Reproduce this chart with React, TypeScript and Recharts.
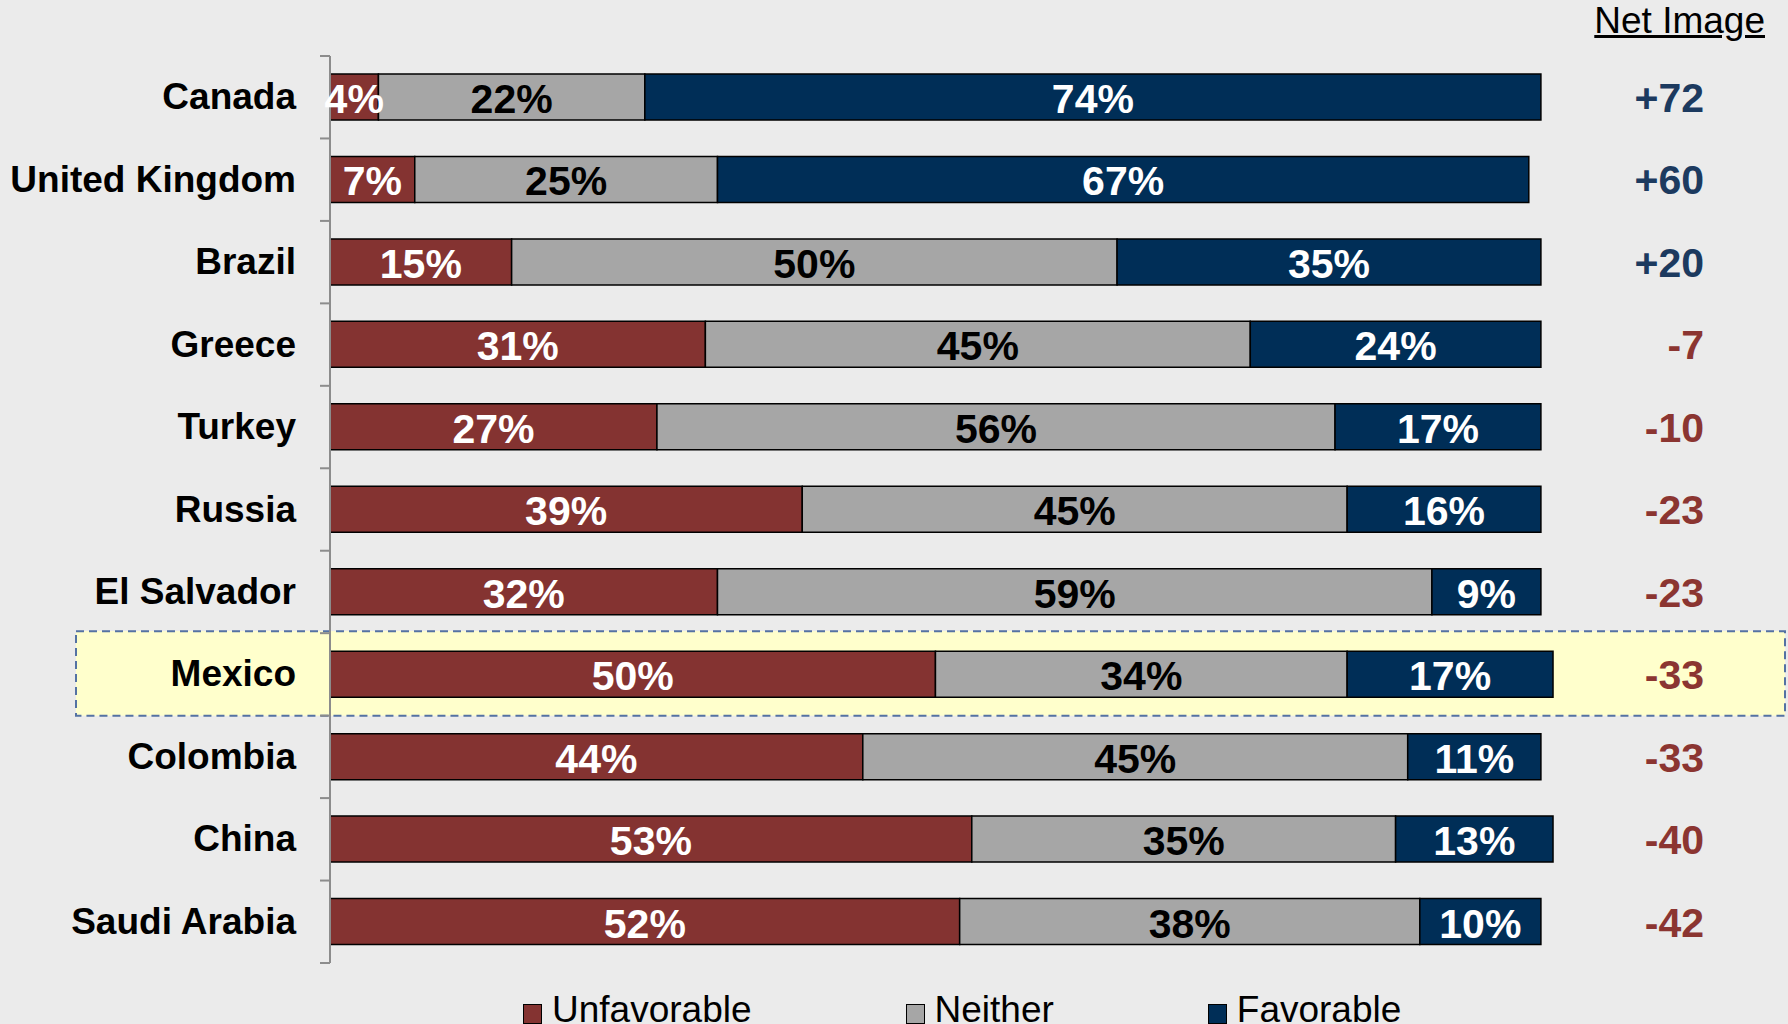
import React from 'react';
import { BarChart, Bar, XAxis, YAxis, LabelList, ReferenceArea } from 'recharts';

const countries = ['Canada', 'United Kingdom', 'Brazil', 'Greece', 'Turkey', 'Russia', 'El Salvador', 'Mexico', 'Colombia', 'China', 'Saudi Arabia'];
const unfavorable = [4, 7, 15, 31, 27, 39, 32, 50, 44, 53, 52];
const neither = [22, 25, 50, 45, 56, 45, 59, 34, 45, 35, 38];
const favorable = [74, 67, 35, 24, 17, 16, 9, 17, 11, 13, 10];
const netImage = [72, 60, 20, -7, -10, -23, -23, -33, -33, -40, -42];
const highlighted = 'Mexico';

const COLORS = { unfav: '#843331', neither: '#A6A6A6', fav: '#002E57' };
const NET_POS = '#1C3A5F';
const NET_NEG = '#8B3531';
const FONT = '"Liberation Sans", Arial, sans-serif';

const data = countries.map((c, i) => ({
  country: c,
  unfav: unfavorable[i],
  neither: neither[i],
  fav: favorable[i],
  net: netImage[i],
}));

const CountryTick = (props: any) => {
  const { x, y, payload, index } = props;
  const half = payload.offset ?? 0;
  const axisX = x + 34;
  return (
    <g>
      <line x1={axisX - 10} x2={axisX} y1={y - half} y2={y - half} stroke="#8C8C8C" strokeWidth={2} />
      {index === countries.length - 1 && (
        <line x1={axisX - 10} x2={axisX} y1={y + half} y2={y + half} stroke="#8C8C8C" strokeWidth={2} />
      )}
      <text x={x} y={y} dy={12} textAnchor="end" fontFamily={FONT} fontWeight="bold" fontSize={37} fill="#000">
        {payload.value}
      </text>
    </g>
  );
};

const pctLabel = (color: string) => (props: any) => {
  const { x, y, width, height, value } = props;
  return (
    <text x={x + width / 2} y={y + height / 2} dy={16} textAnchor="middle" fontFamily={FONT} fontWeight="bold" fontSize={41} fill={color}>
      {value}%
    </text>
  );
};

const NetLabel = (props: any) => {
  const { y, height, value } = props;
  const v = Number(value);
  return (
    <text x={1704} y={y + height / 2} dy={15} textAnchor="end" fontFamily={FONT} fontWeight="bold" fontSize={41} fill={v >= 0 ? NET_POS : NET_NEG}>
      {v > 0 ? `+${v}` : `${v}`}
    </text>
  );
};

const HighlightBox = (props: any) => {
  const { y, height } = props;
  return (
    <rect x={76} y={y - 2} width={1709} height={height + 2} fill="#FFFFCC" stroke="#5472A3" strokeWidth={2} strokeDasharray="8 5" />
  );
};

const legendItems = [
  { label: 'Unfavorable', color: COLORS.unfav },
  { label: 'Neither', color: COLORS.neither },
  { label: 'Favorable', color: COLORS.fav },
];

export default function App() {
  return (
    <div style={{ position: 'absolute', left: 0, top: 0, width: 1788, height: 1024, background: '#EBEBEB', overflow: 'hidden', fontFamily: FONT }}>
      <div style={{ position: 'absolute', right: 23, top: 2, fontSize: 37, lineHeight: '37px', textDecoration: 'underline', color: '#000' }}>
        Net Image
      </div>
      <BarChart
        width={1788}
        height={1024}
        data={data}
        layout="vertical"
        margin={{ top: 56, right: 126, bottom: 61, left: 0 }}
        barSize={46}
      >
        <ReferenceArea y1={highlighted} y2={highlighted} shape={HighlightBox} ifOverflow="visible" />
        <XAxis type="number" domain={[0, 110]} hide />
        <YAxis
          type="category"
          dataKey="country"
          width={330}
          tickLine={false}
          axisLine={{ stroke: '#8C8C8C', strokeWidth: 2 }}
          tickSize={0}
          tickMargin={34}
          tick={CountryTick}
          interval={0}
        />
        <Bar dataKey="unfav" stackId="a" fill={COLORS.unfav} stroke="#000" strokeWidth={1.5} isAnimationActive={false}>
          <LabelList dataKey="unfav" content={pctLabel('#FFFFFF')} />
        </Bar>
        <Bar dataKey="neither" stackId="a" fill={COLORS.neither} stroke="#000" strokeWidth={1.5} isAnimationActive={false}>
          <LabelList dataKey="neither" content={pctLabel('#000000')} />
        </Bar>
        <Bar dataKey="fav" stackId="a" fill={COLORS.fav} stroke="#000" strokeWidth={1.5} isAnimationActive={false}>
          <LabelList dataKey="fav" content={pctLabel('#FFFFFF')} />
          <LabelList dataKey="net" content={NetLabel} />
        </Bar>
      </BarChart>
      <div style={{ position: 'absolute', left: 523, top: 991, display: 'flex', gap: 154, fontSize: 37, lineHeight: '37px', color: '#000' }}>
        {legendItems.map((item) => (
          <div key={item.label} style={{ display: 'flex', alignItems: 'center' }}>
            <span style={{ display: 'inline-block', width: 19, height: 20, boxSizing: 'border-box', border: '1.5px solid #000', background: item.color, marginRight: 10, marginTop: 8 }} />
            <span>{item.label}</span>
          </div>
        ))}
      </div>
    </div>
  );
}
